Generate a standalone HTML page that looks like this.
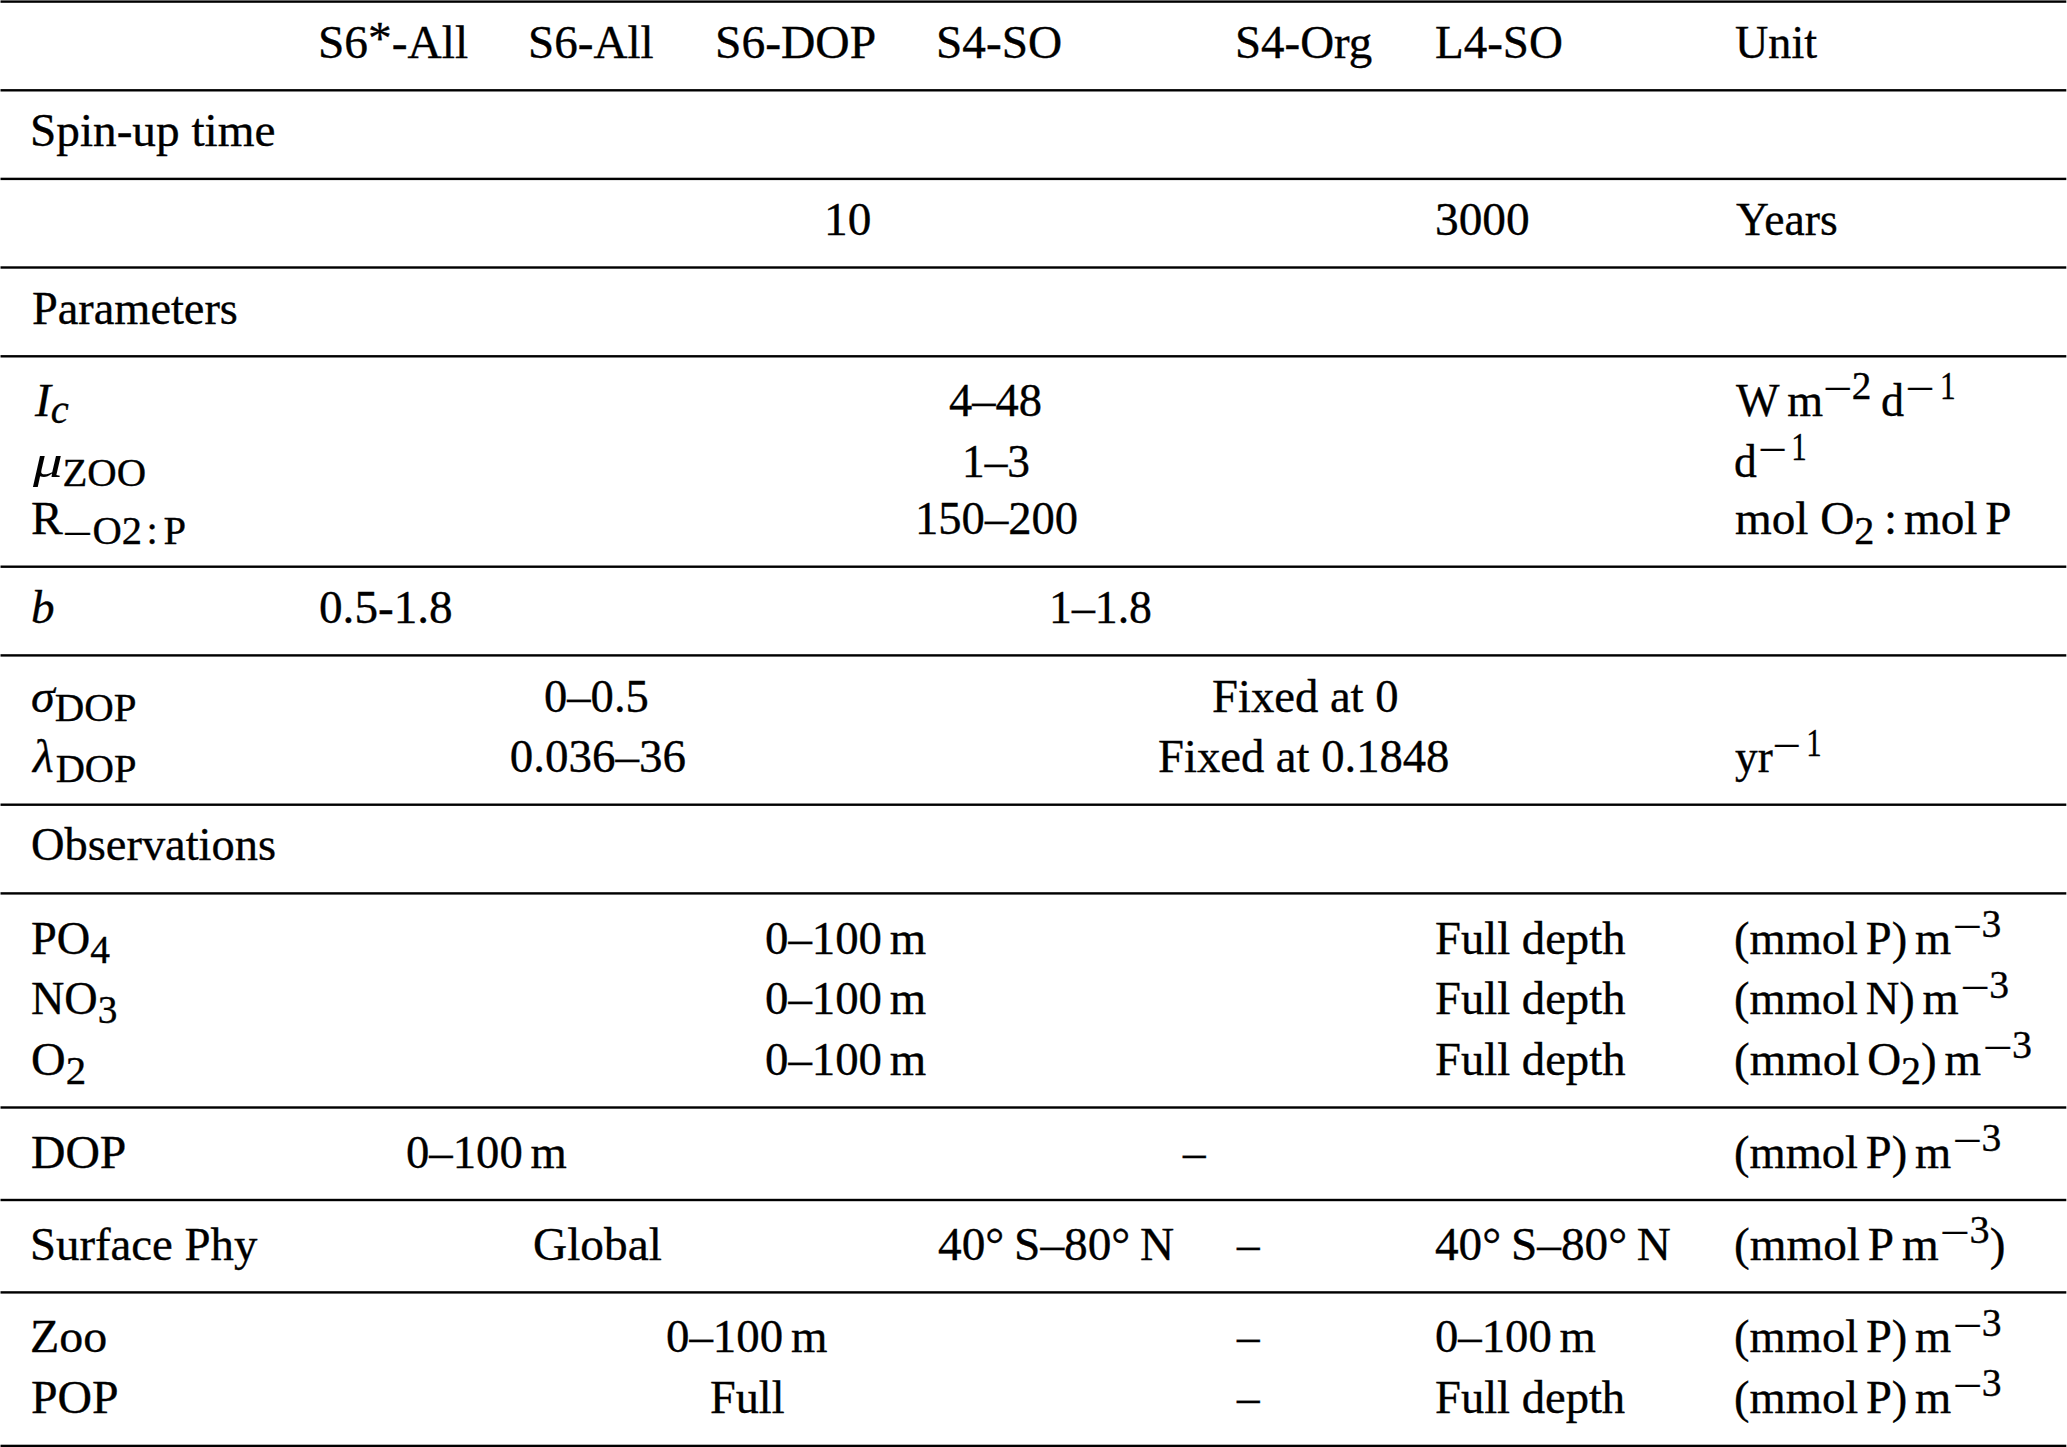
<!DOCTYPE html>
<html lang="en"><head><meta charset="utf-8"><title>Table</title>
<style>
html,body{margin:0;padding:0;background:#fff;}
body{width:2067px;height:1447px;position:relative;overflow:hidden;
 font-family:"Liberation Serif","Times New Roman",serif;font-size:47.0px;color:#000;}
.tbl{position:absolute;left:0;top:0;width:2067px;height:1447px;}
.rules{position:absolute;left:0;top:0;display:block;}
.t{position:absolute;white-space:nowrap;line-height:1;font-size:47.0px;transform-origin:0 50%;
 -webkit-text-stroke:0.35px #000;}
.t i{font-style:italic;}
.s{font-size:40.0px;position:relative;vertical-align:baseline;line-height:1;}
.ast{position:relative;top:-4px;}
.th{display:inline-block;width:7.83px;}
.sp{display:inline-block;}
.mn{display:inline-block;position:relative;top:3px;transform:scaleX(1.31);transform-origin:0 50%;margin-right:0.168em;}
.one{display:inline-block;transform:scaleX(0.8);transform-origin:100% 50%;margin-left:1.2px;}
.mu{display:inline-block;transform:scaleX(1.24);transform-origin:0 50%;margin-right:5.3px;-webkit-text-stroke:0;}
</style></head>
<body>
<div class="tbl">
<svg class="rules" width="2067" height="1447" viewBox="0 0 2067 1447">
<rect x="0.5" y="0.40" width="2065.8" height="2.4" fill="#000"/>
<rect x="0.5" y="89.10" width="2065.8" height="2.4" fill="#000"/>
<rect x="0.5" y="177.70" width="2065.8" height="2.4" fill="#000"/>
<rect x="0.5" y="266.30" width="2065.8" height="2.4" fill="#000"/>
<rect x="0.5" y="355.10" width="2065.8" height="2.4" fill="#000"/>
<rect x="0.5" y="565.50" width="2065.8" height="2.4" fill="#000"/>
<rect x="0.5" y="654.20" width="2065.8" height="2.4" fill="#000"/>
<rect x="0.5" y="803.50" width="2065.8" height="2.4" fill="#000"/>
<rect x="0.5" y="892.20" width="2065.8" height="2.4" fill="#000"/>
<rect x="0.5" y="1106.30" width="2065.8" height="2.4" fill="#000"/>
<rect x="0.5" y="1198.80" width="2065.8" height="2.4" fill="#000"/>
<rect x="0.5" y="1291.20" width="2065.8" height="2.4" fill="#000"/>
<rect x="0.5" y="1444.70" width="2065.8" height="2.4" fill="#000"/>
</svg>
<div class="t" id="t0" style="left:318.17px;top:19px;transform:scaleX(1.0090)">S6<span class="ast">*</span>-All</div>
<div class="t" id="t1" style="left:528.24px;top:19px;transform:scaleX(1.0021)">S6-All</div>
<div class="t" id="t2" style="left:714.97px;top:19px;transform:scaleX(1.0113)">S6-DOP</div>
<div class="t" id="t3" style="left:936.48px;top:19px;transform:scaleX(1.0062)">S4-SO</div>
<div class="t" id="t4" style="left:1235.26px;top:19px;transform:scaleX(0.9981)">S4-Org</div>
<div class="t" id="t5" style="left:1435.00px;top:19px">L4-SO</div>
<div class="t" id="t6" style="left:1734.76px;top:19px;transform:scaleX(0.9819)">Unit</div>
<div class="t" id="t7" style="left:29.78px;top:107px;transform:scaleX(1.0050)">Spin-up time</div>
<div class="t" id="t8" style="left:823.77px;top:196px;transform:scaleX(1.0072)">10</div>
<div class="t" id="t9" style="left:1434.68px;top:196px;transform:scaleX(1.0077)">3000</div>
<div class="t" id="t10" style="left:1735.76px;top:196px;transform:scaleX(0.9705)">Years</div>
<div class="t" id="t11" style="left:31.67px;top:285px;transform:scaleX(0.9859)">Parameters</div>
<div class="t" id="t12" style="left:34.65px;top:377px;transform:scaleX(1.0119)"><i>I</i><sub class="s" style="top:7px"><i>c</i></sub></div>
<div class="t" id="t13" style="left:949.26px;top:377px;transform:scaleX(0.9896)">4–48</div>
<div class="t" id="t14" style="left:1735.95px;top:377px;transform:scaleX(0.9802)">W<span class="th"> </span>m<sup class="s" style="top:-17px"><span class="mn">−</span>2</sup><span class="th"> </span><span class="sp" style="width:2px"></span>d<span class="sp" style="width:2.0px"></span><sup class="s" style="top:-17px"><span class="mn">−</span><span class="one">1</span></sup></div>
<div class="t" id="t15" style="left:32.59px;top:438px;transform:scaleX(1.0174)"><i class="mu">μ</i><sub class="s" style="top:9px">ZOO</sub></div>
<div class="t" id="t16" style="left:962.34px;top:438px;transform:scaleX(0.9653)">1–3</div>
<div class="t" id="t17" style="left:1733.75px;top:438px;transform:scaleX(0.9684)">d<span class="sp" style="width:1.0px"></span><sup class="s" style="top:-17px"><span class="mn">−</span><span class="one">1</span></sup></div>
<div class="t" id="t18" style="left:31.23px;top:495px;transform:scaleX(1.0136)">R<sub class="s" style="top:10px"><span class="mn">−</span>O2<span class="sp" style="width:4.5px"></span>:<span class="sp" style="width:5.5px"></span>P</sub></div>
<div class="t" id="t19" style="left:914.74px;top:495px;transform:scaleX(0.9912)">150–200</div>
<div class="t" id="t20" style="left:1734.95px;top:495px;transform:scaleX(1.0046)">mol O<sub class="s" style="top:10px">2</sub><span class="sp" style="width:9.6px"> </span>:<span class="sp" style="width:6.7px"> </span>mol<span class="th"> </span>P</div>
<div class="t" id="t21" style="left:30.90px;top:584px;transform:scaleX(1.0024)"><i>b</i></div>
<div class="t" id="t22" style="left:318.79px;top:584px;transform:scaleX(1.0038)">0.5-1.8</div>
<div class="t" id="t23" style="left:1049.41px;top:584px;transform:scaleX(0.9736)">1–1.8</div>
<div class="t" id="t24" style="left:30.82px;top:673px;transform:scaleX(1.0229)"><i>σ</i><sub class="s" style="top:9px">DOP</sub></div>
<div class="t" id="t25" style="left:544.41px;top:673px;transform:scaleX(0.9912)">0–0.5</div>
<div class="t" id="t26" style="left:1211.96px;top:673px;transform:scaleX(0.9922)">Fixed at 0</div>
<div class="t" id="t27" style="left:33.37px;top:733px;transform:scaleX(1.0122)"><i>λ</i><span class="sp" style="width:2.0px"></span><sub class="s" style="top:10px">DOP</sub></div>
<div class="t" id="t28" style="left:509.80px;top:733px">0.036–36</div>
<div class="t" id="t29" style="left:1158.46px;top:733px;transform:scaleX(0.9921)">Fixed at 0.1848</div>
<div class="t" id="t30" style="left:1735.27px;top:733px;transform:scaleX(0.9633)">yr<sup class="s" style="top:-16px"><span class="mn">−</span><span class="one">1</span></sup></div>
<div class="t" id="t31" style="left:31.07px;top:821px;transform:scaleX(0.9879)">Observations</div>
<div class="t" id="t32" style="left:31.37px;top:915px;transform:scaleX(0.9860)">PO<sub class="s" style="top:9px">4</sub></div>
<div class="t" id="t33" style="left:765.11px;top:915px;transform:scaleX(0.9959)">0–100<span class="th"> </span>m</div>
<div class="t" id="t34" style="left:1435.16px;top:915px;transform:scaleX(0.9924)">Full depth</div>
<div class="t" id="t35" style="left:1734.02px;top:915px;transform:scaleX(0.9897)">(mmol<span class="th"> </span>P)<span class="th"> </span>m<span class="sp" style="width:1.5px"></span><sup class="s" style="top:-17px"><span class="mn">−</span>3</sup></div>
<div class="t" id="t36" style="left:30.77px;top:975px;transform:scaleX(0.9830)">NO<sub class="s" style="top:9px">3</sub></div>
<div class="t" id="t37" style="left:765.11px;top:975px;transform:scaleX(0.9959)">0–100<span class="th"> </span>m</div>
<div class="t" id="t38" style="left:1435.16px;top:975px;transform:scaleX(0.9924)">Full depth</div>
<div class="t" id="t39" style="left:1734.02px;top:975px;transform:scaleX(0.9894)">(mmol<span class="th"> </span>N)<span class="th"> </span>m<span class="sp" style="width:1.5px"></span><sup class="s" style="top:-16px"><span class="mn">−</span>3</sup></div>
<div class="t" id="t40" style="left:30.81px;top:1036px;transform:scaleX(1.0209)">O<sub class="s" style="top:9px">2</sub></div>
<div class="t" id="t41" style="left:765.11px;top:1036px;transform:scaleX(0.9959)">0–100<span class="th"> </span>m</div>
<div class="t" id="t42" style="left:1435.16px;top:1036px;transform:scaleX(0.9924)">Full depth</div>
<div class="t" id="t43" style="left:1734.00px;top:1036px">(mmol<span class="th"> </span>O<sub class="s" style="top:9px">2</sub>)<span class="th"> </span>m<span class="sp" style="width:1.5px"></span><sup class="s" style="top:-17px"><span class="mn">−</span>3</sup></div>
<div class="t" id="t44" style="left:30.83px;top:1129px;transform:scaleX(1.0143)">DOP</div>
<div class="t" id="t45" style="left:405.71px;top:1129px;transform:scaleX(0.9934)">0–100<span class="th"> </span>m</div>
<div class="t" id="t46" style="left:1183.48px;top:1129px;transform:scaleX(0.9600)">–</div>
<div class="t" id="t47" style="left:1734.02px;top:1129px;transform:scaleX(0.9897)">(mmol<span class="th"> </span>P)<span class="th"> </span>m<span class="sp" style="width:1.5px"></span><sup class="s" style="top:-17px"><span class="mn">−</span>3</sup></div>
<div class="t" id="t48" style="left:29.61px;top:1221px;transform:scaleX(0.9956)">Surface Phy</div>
<div class="t" id="t49" style="left:533.34px;top:1221px;transform:scaleX(1.0072)">Global</div>
<div class="t" id="t50" style="left:937.55px;top:1221px;transform:scaleX(1.0064)">40°<span class="sp" style="width:9.8px"> </span>S–80°<span class="sp" style="width:9.8px"> </span>N</div>
<div class="t" id="t51" style="left:1237.48px;top:1221px;transform:scaleX(0.9600)">–</div>
<div class="t" id="t52" style="left:1435.05px;top:1221px;transform:scaleX(1.0052)">40°<span class="sp" style="width:9.8px"> </span>S–80°<span class="sp" style="width:9.8px"> </span>N</div>
<div class="t" id="t53" style="left:1733.89px;top:1221px;transform:scaleX(1.0047)">(mmol<span class="th"> </span>P<span class="th"> </span>m<span class="sp" style="width:1.5px"></span><sup class="s" style="top:-17px"><span class="mn">−</span>3</sup>)</div>
<div class="t" id="t54" style="left:29.96px;top:1313px;transform:scaleX(1.0194)">Zoo</div>
<div class="t" id="t55" style="left:665.71px;top:1313px;transform:scaleX(0.9966)">0–100<span class="th"> </span>m</div>
<div class="t" id="t56" style="left:1237.48px;top:1313px;transform:scaleX(0.9600)">–</div>
<div class="t" id="t57" style="left:1435.31px;top:1313px;transform:scaleX(0.9941)">0–100<span class="th"> </span>m</div>
<div class="t" id="t58" style="left:1734.02px;top:1313px;transform:scaleX(0.9904)">(mmol<span class="th"> </span>P)<span class="th"> </span>m<span class="sp" style="width:1.5px"></span><sup class="s" style="top:-16px"><span class="mn">−</span>3</sup></div>
<div class="t" id="t59" style="left:31.13px;top:1374px;transform:scaleX(1.0162)">POP</div>
<div class="t" id="t60" style="left:710.07px;top:1374px;transform:scaleX(0.9831)">Full</div>
<div class="t" id="t61" style="left:1237.48px;top:1374px;transform:scaleX(0.9600)">–</div>
<div class="t" id="t62" style="left:1435.26px;top:1374px;transform:scaleX(0.9908)">Full depth</div>
<div class="t" id="t63" style="left:1734.02px;top:1374px;transform:scaleX(0.9904)">(mmol<span class="th"> </span>P)<span class="th"> </span>m<span class="sp" style="width:1.5px"></span><sup class="s" style="top:-17px"><span class="mn">−</span>3</sup></div>
</div>
</body></html>
